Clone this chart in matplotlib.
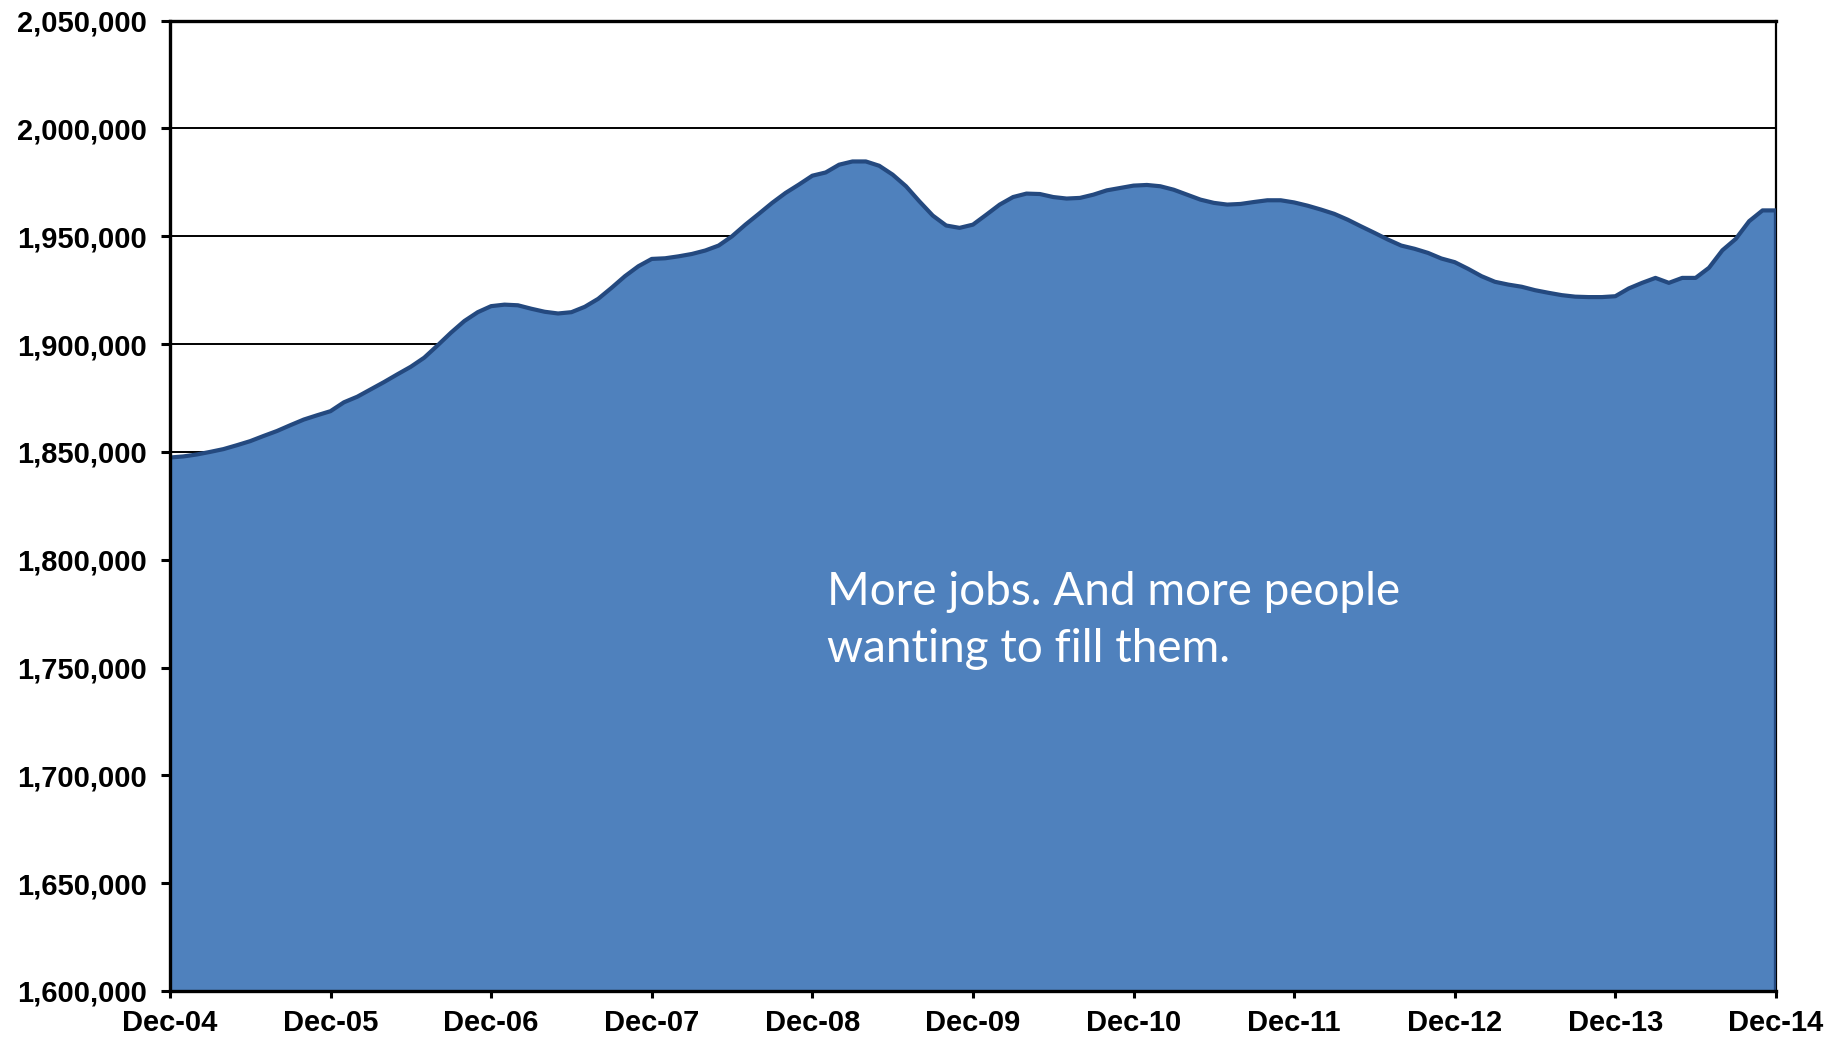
"""Monthly employment level, Dec-04 to Dec-14, as a filled area chart."""

import matplotlib.pyplot as plt
from matplotlib.ticker import FuncFormatter

# Employment level, one value per month starting Dec-04
EMPLOYMENT = [
    1847400, 1847900, 1848800, 1850000, 1851300, 1853100, 1855000, 1857400,
    1859700, 1862400, 1865000, 1867000, 1868900, 1873000, 1875600, 1879000,
    1882400, 1886000, 1889500, 1893700, 1899400, 1905300, 1910700, 1914800,
    1917600, 1918300, 1918000, 1916400, 1915000, 1914200, 1914800, 1917300,
    1921000, 1926100, 1931500, 1936100, 1939500, 1939800, 1940700, 1941800,
    1943400, 1945700, 1950000, 1955400, 1960400, 1965500, 1970100, 1974000,
    1978100, 1979600, 1983200, 1984700, 1984700, 1982700, 1978600, 1973200,
    1966200, 1959600, 1955000, 1953900, 1955400, 1960000, 1964700, 1968200,
    1969800, 1969600, 1968200, 1967500, 1967800, 1969300, 1971300, 1972400,
    1973500, 1973800, 1973200, 1971600, 1969300, 1967000, 1965500, 1964700,
    1965000, 1965900, 1966700, 1966700, 1965700, 1964200, 1962400, 1960400,
    1957700, 1954600, 1951600, 1948500, 1945700, 1944200, 1942300, 1939700,
    1938000, 1934900, 1931500, 1928900, 1927600, 1926600, 1925000, 1923800,
    1922700, 1922000, 1921800, 1921800, 1922200, 1925800, 1928400, 1930700,
    1928400, 1930700, 1930700, 1935400, 1943500, 1948800, 1957000, 1962000,
    1962000,
]
YEAR_LABELS = ["Dec-04", "Dec-05", "Dec-06", "Dec-07", "Dec-08", "Dec-09",
               "Dec-10", "Dec-11", "Dec-12", "Dec-13", "Dec-14"]
Y_MIN, Y_MAX, Y_STEP = 1600000, 2050000, 50000
NOTE = "More jobs. And more people\nwanting to fill them."

FILL = "#4F81BD"
EDGE = "#24497F"


def main() -> None:
    plt.rcParams["font.family"] = ["Liberation Sans", "DejaVu Sans"]

    fig = plt.figure(figsize=(18.39, 10.38), dpi=100)
    ax = fig.add_axes([0.0924, 0.0453, 0.8733, 0.9348])

    months = list(range(len(EMPLOYMENT)))
    last = months[-1]

    # horizontal gridlines sit behind the area
    for level in range(Y_MIN + Y_STEP, Y_MAX, Y_STEP):
        ax.axhline(level, color="black", lw=1.4, zorder=1)

    ax.fill_between(months, EMPLOYMENT, Y_MIN, color=FILL, lw=0, zorder=2)
    ax.plot(months + [last], EMPLOYMENT + [Y_MIN], color=EDGE, lw=3.0,
            solid_joinstyle="round", zorder=3)

    ax.set_xlim(0, last)
    ax.set_ylim(Y_MIN, Y_MAX)
    ax.set_xticks(range(0, last + 1, 12))
    ax.set_xticklabels(YEAR_LABELS)
    ax.set_yticks(range(Y_MIN, Y_MAX + 1, Y_STEP))
    ax.yaxis.set_major_formatter(FuncFormatter(lambda v, _: f"{int(v):,}"))

    for lab in ax.get_xticklabels() + ax.get_yticklabels():
        lab.set_fontweight("bold")
        lab.set_fontsize(21)
    ax.tick_params(axis="y", direction="out", length=6.5, width=2.2, pad=10)
    ax.tick_params(axis="x", direction="out", length=5, width=2.2, pad=8)

    for side in ["left", "top", "bottom"]:
        ax.spines[side].set_linewidth(2.4)
        ax.spines[side].set_zorder(4)
    ax.spines["right"].set_linewidth(1.6)

    ax.text(0.409, 0.433, NOTE, transform=ax.transAxes, color="white",
            fontsize=33, family="Lato", va="top", ha="left",
            linespacing=1.45, zorder=5)

    fig.savefig("out.png", dpi=100)


if __name__ == "__main__":
    main()
